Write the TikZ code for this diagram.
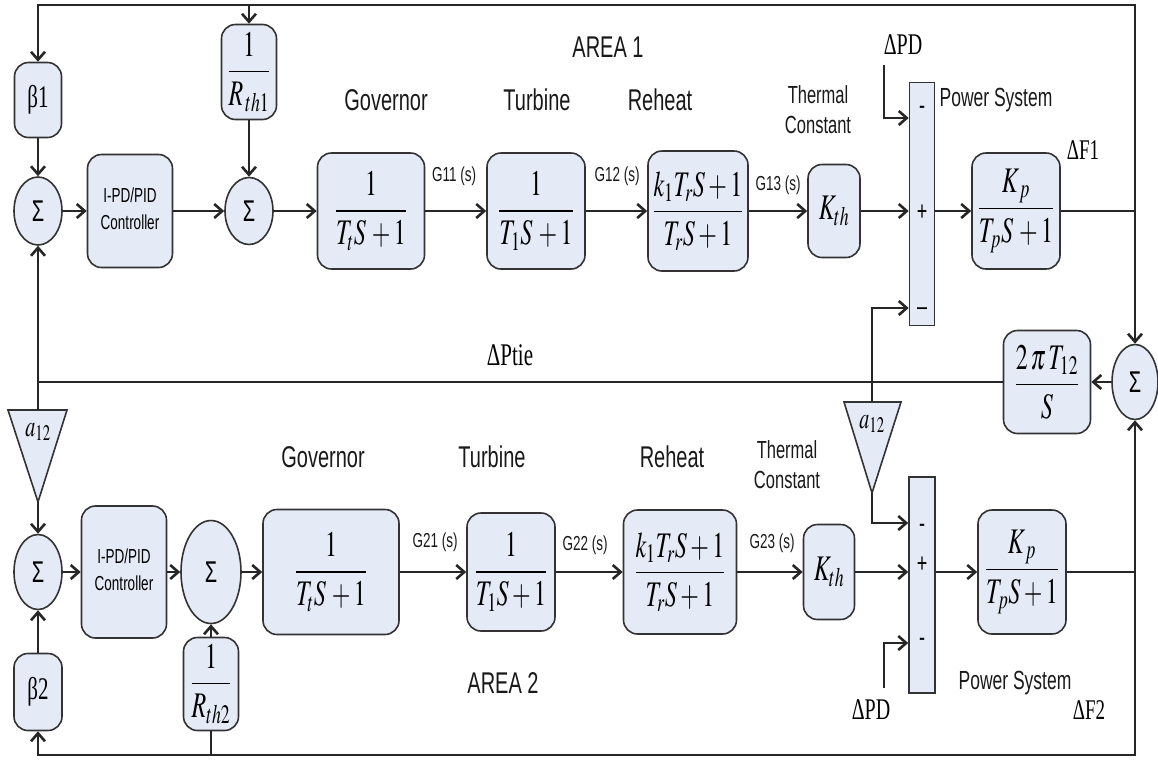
\documentclass[tikz,border=0pt]{standalone}
\usepackage{amsmath}
\usepackage{mathptmx}
\usepackage{fontspec}
\setmainfont{Liberation Serif}
\setsansfont{Liberation Sans}
\usepackage{graphicx}
\usetikzlibrary{arrows.meta,shapes.geometric}
\definecolor{blkfill}{RGB}{228,235,246}
% all text of the picture is drawn tall and narrow
\newcommand{\tall}[1]{\scalebox{1}[1.5]{#1}}
\begin{document}
\begin{tikzpicture}[x=1pt, y=-1pt,
		>={Straight Barb[length=8pt,width=14pt]},   %Pfeilspitzen
		blk/.style={draw=black!80, line width=1.6pt, fill=blkfill, rounded corners=14pt, inner sep=0pt, font=\fontsize{24}{28}\selectfont},
		barbox/.style={draw=black!80, line width=1.6pt, fill=blkfill, inner sep=0pt},
		tri/.style={draw=black!80, line width=1.6pt, fill=blkfill},
		sumnode/.style={ellipse, draw=black!80, line width=1.6pt, fill=blkfill, inner sep=0pt, font=\sffamily\fontsize{20}{20}\selectfont},
		lbl/.style={inner sep=0pt, text=black!90, font=\sffamily\fontsize{20}{24}\selectfont},
		small/.style={inner sep=0pt, text=black!90, font=\sffamily\fontsize{13.5}{18}\selectfont},
		sig/.style={inner sep=0pt, font=\fontsize{20}{24}\selectfont},
		sgn/.style={inner sep=0pt, font=\sffamily\fontsize{18}{18}\selectfont},
		wire/.style={line width=2.6pt, draw=black!85}]
	\useasboundingbox (0,0) rectangle (1158,761);
	% Ecken der Rueckfuehrungen
	\coordinate (tr) at (1135,5);
	\coordinate (j1) at (1135,211);
	\coordinate (j2) at (1135,572);
	\coordinate (br) at (1135,755);
	\coordinate (jtL) at (38,382);
	\coordinate (jtR) at (872,382);
	\coordinate (pd1) at (884,65);
	\coordinate (pd2) at (884,688);
	\coordinate (aLtop) at (38,410);
	\coordinate (aLtip) at (38,502);
	\coordinate (aRtop) at (872,402);
	\coordinate (aRtip) at (872,493);
	% Area 1 Bloecke
	\node[blk, minimum width=47pt, minimum height=75pt] (beta1) at (38,100) {\tall{\rmfamily\fontsize{21}{21}\selectfont β1}};
	\node[sumnode, minimum width=48pt, minimum height=68pt] (s11) at (38,211) {\tall{Σ}};
	\node[blk, minimum width=85pt, minimum height=113pt] (ctrl1) at (130,211) {\tall{\sffamily\fontsize{13.5}{18}\selectfont\begin{tabular}{@{}c@{}}I-PD/PID\\Controller\end{tabular}}};
	\node[blk, minimum width=55pt, minimum height=95pt] (rth1) at (249,72) {\tall{$\dfrac{1}{R_{\,th1}}$}};
	\node[sumnode, minimum width=48pt, minimum height=67pt] (s12) at (249,211) {\tall{Σ}};
	\node[blk, minimum width=107pt, minimum height=116pt] (gov1) at (371,211) {\tall{$\dfrac{1}{T_tS\,+1}$}};
	\node[blk, minimum width=98pt, minimum height=116pt] (tur1) at (536,211) {\tall{$\dfrac{1}{T_1S\,+1}$}};
	\node[blk, minimum width=100pt, minimum height=120pt] (reh1) at (698,211) {\tall{$\dfrac{k_1T_rS+1}{T_rS+1}$}};
	\node[blk, minimum width=52pt, minimum height=93pt] (kth1) at (834,211) {\tall{$K_{th}$}};
	\node[barbox, minimum width=25pt, minimum height=243pt] (bar1) at (922,204) {};
	\node[blk, minimum width=88pt, minimum height=116pt] (ps1) at (1016,211) {\tall{$\dfrac{K_{\,p}}{T_pS\,+1}$}};
	% Vorzeichen
	\node[sgn] (m11) at (922,110) {\tall{-}};
	\node[sgn] (p1) at (922,213) {\tall{+}};
	\node[sgn] (m12) at (922,312) {\tall{--}};
	% Tie-line
	\node[sumnode, minimum width=46pt, minimum height=75pt] (sr) at (1135,382) {\tall{Σ}};
	\node[blk, minimum width=87pt, minimum height=103pt] (tie) at (1047,382) {\tall{$\dfrac{2\,\pi\, T_{12}}{S}$}};
	\draw[tri] (8,410) -- (67,410) -- (38,502) -- cycle;
	\node[sig] (aL) at (38,432) {\tall{$a_{12}$}};
	\draw[tri] (844,402) -- (901,402) -- (872,493) -- cycle;
	\node[sig] (aR) at (872,424) {\tall{$a_{12}$}};
	% Area 2 Bloecke
	\node[sumnode, minimum width=48pt, minimum height=75pt] (s21) at (38,572) {\tall{Σ}};
	\node[blk, minimum width=85pt, minimum height=132pt] (ctrl2) at (124,572) {\tall{\sffamily\fontsize{13.5}{18}\selectfont\begin{tabular}{@{}c@{}}I-PD/PID\\Controller\end{tabular}}};
	\node[sumnode, minimum width=60pt, minimum height=103pt] (s22) at (211,572) {\tall{Σ}};
	\node[blk, minimum width=55pt, minimum height=93pt] (rth2) at (211,684) {\tall{$\dfrac{1}{R_{th2}}$}};
	\node[blk, minimum width=48pt, minimum height=77pt] (beta2) at (38,692) {\tall{\rmfamily\fontsize{21}{21}\selectfont β2}};
	\node[blk, minimum width=136pt, minimum height=125pt] (gov2) at (331,572) {\tall{$\dfrac{1}{T_tS\,+1}$}};
	\node[blk, minimum width=88pt, minimum height=118pt] (tur2) at (511,572) {\tall{$\dfrac{1}{T_1S+1}$}};
	\node[blk, minimum width=113pt, minimum height=124pt] (reh2) at (680,572) {\tall{$\dfrac{k_1T_rS+1}{T_rS+1}$}};
	\node[blk, minimum width=51pt, minimum height=95pt] (kth2) at (829,572) {\tall{$K_{th}$}};
	\node[barbox, minimum width=26pt, minimum height=216pt] (bar2) at (922,585) {};
	\node[blk, minimum width=88pt, minimum height=124pt] (ps2) at (1022,572) {\tall{$\dfrac{K_{\,p}}{T_pS+1}$}};
	\node[sgn] (m21) at (922,528) {\tall{-}};
	\node[sgn] (p2) at (922,565) {\tall{+}};
	\node[sgn] (m22) at (922,642) {\tall{-}};
	% Beschriftungen
	\node[lbl] (area1) at (608,47) {\tall{AREA 1}};
	\node[lbl] (gl1) at (386,100) {\tall{Governor}};
	\node[lbl] (tl1) at (537,100) {\tall{Turbine}};
	\node[lbl] (rl1) at (660,100) {\tall{Reheat}};
	\node[lbl, font=\sffamily\fontsize{16.5}{20}\selectfont] (th1) at (818,112) {\tall{\begin{tabular}{@{}c@{}}Thermal\\Constant\end{tabular}}};
	\node[lbl, font=\sffamily\fontsize{17.5}{20}\selectfont] (psl1) at (996,100) {\tall{Power System}};
	\node[sig] (dpd1) at (903,45) {\tall{ΔPD}};
	\node[sig, font=\fontsize{19}{22}\selectfont] (df1) at (1083,150) {\tall{ΔF1}};
	\node[small] (g11) at (454,176) {\tall{G11 (s)}};
	\node[small] (g12) at (617,176) {\tall{G12 (s)}};
	\node[small] (g13) at (778,185) {\tall{G13 (s)}};
	\node[sig, font=\fontsize{21}{24}\selectfont] (ptie) at (510,355) {\tall{ΔPtie}};
	\node[lbl] (gl2) at (323,457) {\tall{Governor}};
	\node[lbl] (tl2) at (492,457) {\tall{Turbine}};
	\node[lbl] (rl2) at (672,457) {\tall{Reheat}};
	\node[lbl, font=\sffamily\fontsize{16.5}{20}\selectfont] (th2) at (787,467) {\tall{\begin{tabular}{@{}c@{}}Thermal\\Constant\end{tabular}}};
	\node[lbl] (area2) at (503,683) {\tall{AREA 2}};
	\node[lbl, font=\sffamily\fontsize{17.5}{20}\selectfont] (psl2) at (1015,683) {\tall{Power System}};
	\node[sig] (dpd2) at (871,710) {\tall{ΔPD}};
	\node[sig, font=\fontsize{19}{22}\selectfont] (df2) at (1089,710) {\tall{ΔF2}};
	\node[small] (g21) at (435,542) {\tall{G21 (s)}};
	\node[small] (g22) at (585,545) {\tall{G22 (s)}};
	\node[small] (g23) at (772,543) {\tall{G23 (s)}};
	% Signalfluss Area 1
	\draw[wire,->] (s11) -- (ctrl1);
	\draw[wire,->] (ctrl1) -- (s12);
	\draw[wire,->] (s12) -- (gov1);
	\draw[wire,->] (gov1) -- (tur1);
	\draw[wire,->] (tur1) -- (reh1);
	\draw[wire,->] (reh1) -- (kth1);
	\draw[wire,->] (kth1) -- (kth1 -| bar1.west);
	\draw[wire,->] (bar1.east |- ps1) -- (ps1);
	\draw[wire] (ps1) -- (j1);
	\draw[wire,->] (j1) -- (sr);
	\draw[wire,->] (j1) -- (tr) -| (beta1);
	\draw[wire,->] (rth1 |- tr) -- (rth1);
	\draw[wire,->] (beta1) -- (s11);
	\draw[wire,->] (rth1) -- (s12);
	\draw[wire,->] (pd1) |- (bar1.west |- 0,118);
	% Tie-line Leistung
	\draw[wire,->] (sr) -- (tie);
	\draw[wire] (tie) -- (jtL);
	\draw[wire,->] (jtL) -- (s11);
	\draw[wire] (jtL) -- (aLtop);
	\draw[wire,->] (aLtip) -- (s21);
	\draw[wire,->] (jtR) |- (bar1.west |- 0,308);
	\draw[wire] (jtR) -- (aRtop);
	\draw[wire,->] (aRtip) |- (bar2.west |- 0,523);
	% Signalfluss Area 2
	\draw[wire,->] (s21) -- (ctrl2);
	\draw[wire,->] (ctrl2) -- (s22);
	\draw[wire,->] (s22) -- (gov2);
	\draw[wire,->] (gov2) -- (tur2);
	\draw[wire,->] (tur2) -- (reh2);
	\draw[wire,->] (reh2) -- (kth2);
	\draw[wire,->] (kth2) -- (kth2 -| bar2.west);
	\draw[wire,->] (bar2.east |- ps2) -- (ps2);
	\draw[wire] (ps2) -- (j2);
	\draw[wire,->] (j2) -- (sr);
	\draw[wire,->] (j2) -- (br) -| (beta2);
	\draw[wire] (rth2 |- br) -- (rth2);
	\draw[wire,->] (beta2) -- (s21);
	\draw[wire,->] (rth2) -- (s22);
	\draw[wire,->] (pd2) |- (bar2.west |- 0,643);
\end{tikzpicture}
\end{document}
